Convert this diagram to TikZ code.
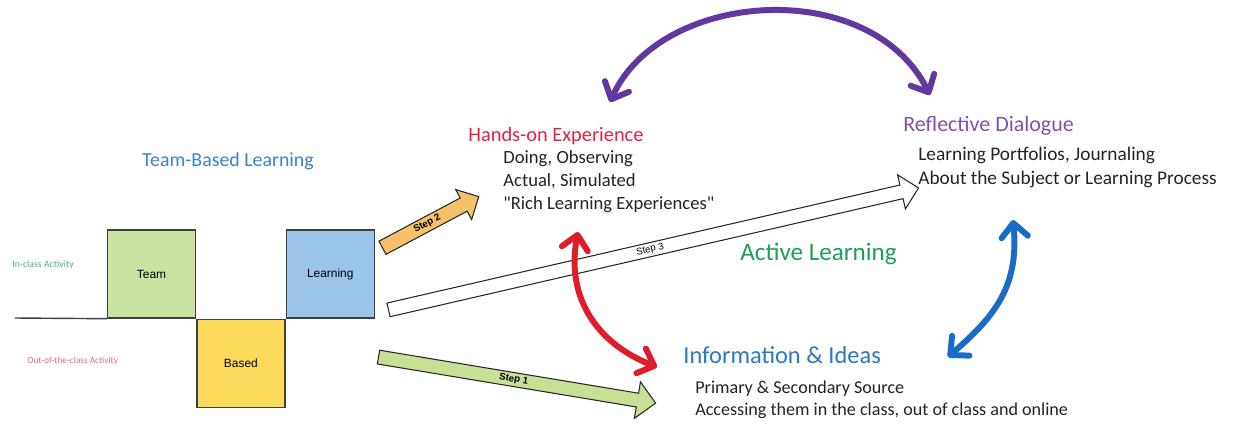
\documentclass[tikz,border=0pt]{standalone}
\usepackage{fontspec}
\setmainfont{Carlito}
\newfontfamily\arialfont{Liberation Sans}
\usetikzlibrary{%
  arrows.meta,%
  shapes.arrows%
}
\tikzset{>={Straight Barb[length=8pt,width=15pt,round]}}
\definecolor{tbgreen}{RGB}{201,226,160}
\definecolor{tbyellow}{RGB}{253,217,92}
\definecolor{tbblue}{RGB}{155,196,234}
\definecolor{steporange}{RGB}{245,194,107}
\definecolor{stepgreen}{RGB}{200,224,150}
\definecolor{handsred}{RGB}{222,36,66}
\definecolor{reflpurple}{RGB}{126,82,168}
\definecolor{infoblue}{RGB}{43,120,194}
\definecolor{activegreen}{RGB}{32,156,88}
\definecolor{tblblue}{RGB}{60,130,200}
\definecolor{arrowpurple}{RGB}{96,56,160}
\definecolor{arrowred}{RGB}{225,28,42}
\definecolor{arrowblue}{RGB}{24,108,196}
\definecolor{textgray}{RGB}{35,35,35}
\tikzset{
  tbbox/.style={draw=black!75,line width=0.8pt,minimum width=1.76cm,
    minimum height=1.76cm,inner sep=0pt,
    font=\arialfont\fontsize{6.8}{8}\selectfont},
  stepbox/.style={single arrow,draw=black!85,line width=0.6pt,inner sep=1pt,
    anchor=tail,font=\arialfont\bfseries\fontsize{5.5}{6}\selectfont},
  headtext/.style={inner sep=0pt,anchor=base west},
  bodytext/.style={inner sep=0pt,anchor=base west,text=textgray,
    font=\fontsize{10.6}{13}\selectfont},
  loopline/.style={<->,line width=3.4pt,line cap=round}
}
\begin{document}
\begin{tikzpicture}[x=0.02cm,y=-0.02cm]
    \useasboundingbox (0,0) rectangle (1244,423);
    \node[tbbox,fill=tbgreen] (team) at (151.5,274) {Team};
    \node[tbbox,fill=tbyellow,anchor=north west] (based) at (team.south east) {Based};
    \node[tbbox,fill=tbblue,anchor=south west] (learning) at (based.north east) {Learning};
    \draw[black!75,line width=0.8pt] (15,318) -- (team.south west);
    \node[inner sep=0pt,text=activegreen!80,font=\fontsize{5.6}{6}\selectfont,anchor=base west]
      (inclass) at (12,267) {In-class Activity};
    \node[inner sep=0pt,text=handsred!70,font=\fontsize{5.3}{6}\selectfont,anchor=base west]
      (outclass) at (27,363) {Out-of-the-class Activity};
    \node[inner sep=0pt,text=tblblue,font=\fontsize{11.3}{13}\selectfont,anchor=base]
      (tbl) at (228,166) {Team-Based Learning};
    \node[stepbox,fill=steporange,rotate=28,minimum height=2.18cm,minimum width=0.68cm,
      single arrow head extend=0.17cm] (step2) at (382,248) {Step 2};
    \node[stepbox,fill=white,rotate=12.96,minimum height=10.88cm,minimum width=0.70cm,
      single arrow head extend=0.20cm,font=\arialfont\fontsize{5.5}{6}\selectfont]
      (step3) at (388,310) {Step 3};
    \node[stepbox,fill=stepgreen,rotate=-9.43,minimum height=5.62cm,minimum width=0.74cm,
      single arrow head extend=0.22cm] (step1) at (378,357) {Step 1};
    \node[headtext,text=handsred,font=\fontsize{11.6}{14}\selectfont] (hands) at (468,141) {Hands-on Experience};
    \node[bodytext] (hands1) at (503,163) {Doing, Observing};
    \node[bodytext] (hands2) at (503,186) {Actual, Simulated};
    \node[bodytext] (hands3) at (503,209) {\textquotedbl Rich Learning Experiences\textquotedbl};
    \node[headtext,text=reflpurple,font=\fontsize{12.5}{14}\selectfont] (refl) at (903,131) {Reflective Dialogue};
    \node[bodytext,font=\fontsize{11}{13}\selectfont] (refl1) at (918,160) {Learning Portfolios, Journaling};
    \node[bodytext,font=\fontsize{11}{13}\selectfont] (refl2) at (918,184) {About the Subject or Learning Process};
    \node[headtext,text=infoblue,font=\fontsize{13.9}{15}\selectfont] (info) at (683,363) {Information \& Ideas};
    \node[bodytext,font=\fontsize{10.3}{12}\selectfont] (info1) at (695,393) {Primary \& Secondary Source};
    \node[bodytext,font=\fontsize{10.3}{12}\selectfont] (info2) at (695,415) {Accessing them in the class, out of class and online};
    \node[headtext,text=activegreen,font=\fontsize{14.3}{16}\selectfont] (active) at (740,260) {Active Learning};
    \coordinate (handsup) at (610,102);
    \coordinate (reflup) at (930,95);
    \coordinate (handsdown) at (578,232);
    \coordinate (infoleft) at (657,367);
    \coordinate (refldown) at (1013,220);
    \coordinate (inforight) at (948,357);
    \draw[loopline,arrowpurple] (handsup) .. controls (660,-10) and (870,-25) .. (reflup);
    \draw[loopline,arrowred] (handsdown) .. controls (565,300) and (600,345) .. (infoleft);
    \draw[loopline,arrowblue] (refldown) .. controls (1020,290) and (990,320) .. (inforight);
\end{tikzpicture}
\end{document}
